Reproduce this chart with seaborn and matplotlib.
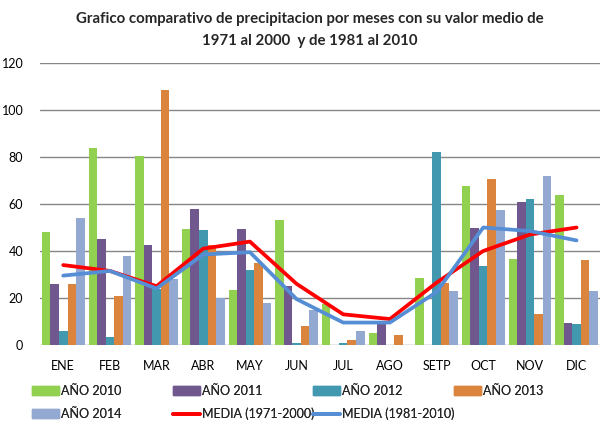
import matplotlib
matplotlib.use("Agg")
import matplotlib.pyplot as plt
import seaborn as sns
import pandas as pd
from matplotlib.patches import Patch
from matplotlib.lines import Line2D

meses = ["ENE", "FEB", "MAR", "ABR", "MAY", "JUN", "JUL", "AGO", "SETP", "OCT", "NOV", "DIC"]

anio_2010 = [48, 84, 80.5, 49.5, 23.5, 53, 17.5, 5, 28.5, 67.5, 36.5, 64]
anio_2011 = [26, 45, 42.5, 58, 49.5, 25, 0, 10, 0, 50, 61, 9.5]
anio_2012 = [6, 3.5, 24, 49, 32, 1, 1, 0, 82, 33.5, 62, 9]
anio_2013 = [26, 21, 108.5, 42.5, 35, 8, 2, 4, 26.5, 70.5, 13, 36]
anio_2014 = [54, 38, 28, 20, 18, 15, 6, 0, 23, 57.5, 72, 23]

media_1971_2000 = [34, 31.5, 25, 41, 44, 26, 13, 11, 26.5, 40, 47, 50]
media_1981_2010 = [29.5, 31.5, 24, 38.5, 39.5, 19.5, 9.5, 9.5, 22.5, 50, 48.5, 44.5]

series = {
    "AÑO 2010": anio_2010,
    "AÑO 2011": anio_2011,
    "AÑO 2012": anio_2012,
    "AÑO 2013": anio_2013,
    "AÑO 2014": anio_2014,
}
colores = ["#92D050", "#70588F", "#4198AF", "#DB843D", "#93A9D1"]
rojo = "#FF0000"
azul = "#558ED5"

df = pd.DataFrame(
    [(m, k, v) for k, vals in series.items() for m, v in zip(meses, vals)],
    columns=["mes", "serie", "valor"],
)

sns.set_style("white")
plt.rcParams["font.family"] = ["Lato", "DejaVu Sans"]

fig = plt.figure(figsize=(6.14, 4.30), dpi=100)
ax = fig.add_axes([0.065, 0.198, 0.912, 0.655])

sns.barplot(data=df, x="mes", y="valor", hue="serie", order=meses,
            palette=colores, width=0.915, linewidth=0, saturation=1,
            ax=ax, legend=False)

df_lineas = pd.DataFrame({"mes": meses, "a": media_1971_2000, "b": media_1981_2010})
sns.lineplot(data=df_lineas, x="mes", y="a", color=rojo, lw=2.7, ax=ax)
sns.lineplot(data=df_lineas, x="mes", y="b", color=azul, lw=2.7, ax=ax)

ax.set_ylim(0, 120)
ax.set_xlim(-0.5, 11.5)
ax.set_yticks(range(0, 121, 20))
ax.yaxis.grid(True, color="#868686", lw=1)
ax.set_axisbelow(True)
for s in ax.spines.values():
    s.set_visible(False)
ax.set_xlabel("")
ax.set_ylabel("")
ax.tick_params(axis="both", labelsize=9, length=0, colors="black")
ax.tick_params(axis="x", pad=11)
ax.tick_params(axis="y", pad=12)

fig.text(0.505, 0.955, "Grafico comparativo de precipitacion por meses con su valor medio de",
         ha="center", va="center", fontsize=10.8, fontweight="bold")
fig.text(0.505, 0.905, "1971 al 2000  y de 1981 al 2010",
         ha="center", va="center", fontsize=10.8, fontweight="bold")

# leyenda: una entrada por posicion, como en Excel
entradas = [
    (Patch(color=colores[0]), "AÑO 2010", 32, 391),
    (Patch(color=colores[1]), "AÑO 2011", 173, 391),
    (Patch(color=colores[2]), "AÑO 2012", 313, 391),
    (Patch(color=colores[3]), "AÑO 2013", 454, 391),
    (Patch(color=colores[4]), "AÑO 2014", 32, 414),
    (Line2D([], [], color=rojo, lw=2.7), "MEDIA (1971-2000)", 173, 414),
    (Line2D([], [], color=azul, lw=2.7), "MEDIA (1981-2010)", 313, 414),
]
for handle, texto, px, py in entradas:
    leg = fig.legend([handle], [texto], loc="center left",
                     bbox_to_anchor=(px / 614, 1 - py / 430),
                     frameon=False, fontsize=9, handlelength=2.15, handleheight=0.65,
                     handletextpad=0.2, borderpad=0, borderaxespad=0)
    fig.add_artist(leg)

fig.savefig("out.png", dpi=100)
